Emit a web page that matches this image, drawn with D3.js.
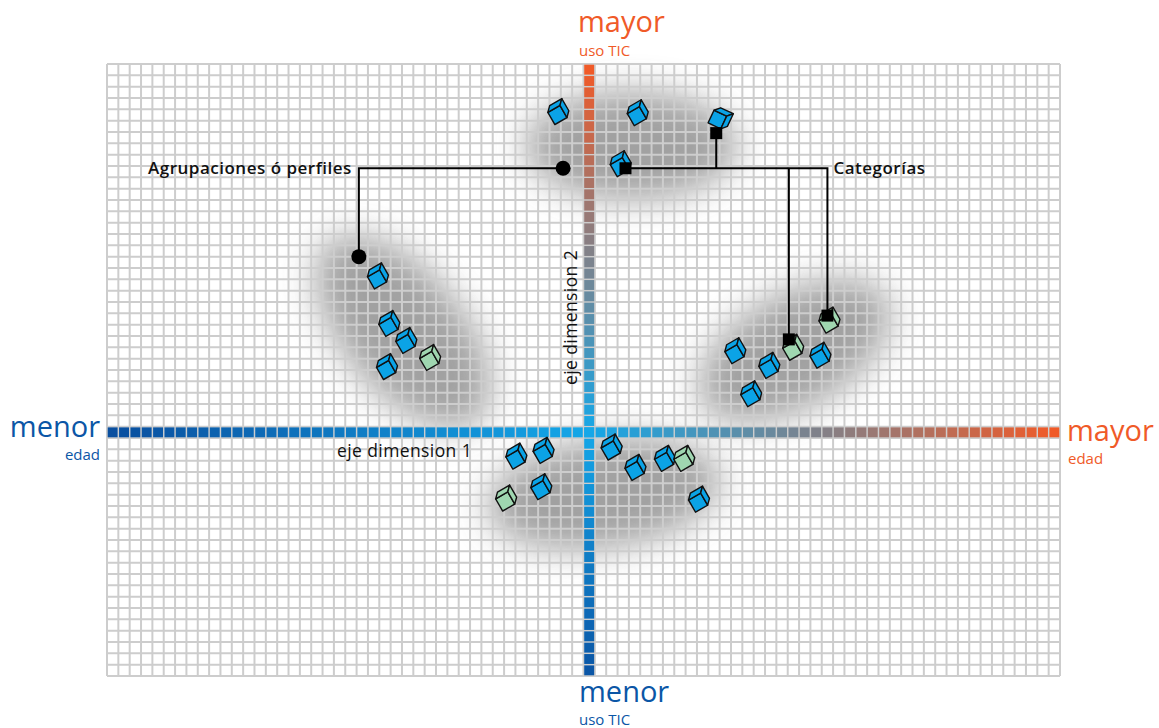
<!DOCTYPE html>
<html><head><meta charset="utf-8">
<script src="https://cdn.jsdelivr.net/npm/d3@7"></script>
<style>
html,body{margin:0;padding:0;background:#fff;}
svg{display:block;font-family:"Open Sans",sans-serif;}
</style></head>
<body><svg id="chart" width="1159" height="728"></svg>
<script>
// ---- data (dimension units: grid cells, axis crossing at 0,0) ----
const gridX = [-42.5, 41.5];      // dimension 1 extent (edad)
const gridY = [-21.5, 32.5];      // dimension 2 extent (uso TIC)

// clusters (agrupaciones / perfiles): centre, radii, tilt
const clusterCx = [3.7, -16.4, 18.1, 1.3];
const clusterCy = [25.3, 8.9, 7.2, -5.4];
const clusterRx = [9.3, 10.2, 9.3, 10.3];
const clusterRy = [4.8, 5.3, 5.0, 4.8];
const clusterTilt = [0, 50, -30, -8];

// categories (cubes)
const cubeX = [-2.8, 4.2, 11.3, 2.7,
  -18.7, -17.7, -16.2, -17.9, -14.1,
  12.8, 15.8, 17.9, 21.1, 20.3, 14.2,
  -6.5, -4.1, -7.4, -4.3, 1.9, 4.0, 6.6, 8.3, 9.6];
const cubeY = [28.0, 27.9, 27.6, 23.4,
  13.5, 9.3, 7.8, 5.5, 6.3,
  6.9, 5.6, 7.2, 9.6, 6.5, 3.1,
  -2.4, -1.9, -6.1, -5.1, -1.6, -3.4, -2.6, -2.6, -6.2];
const cubeGroup = ["a","a","a","a",
  "a","a","a","a","b",
  "a","a","b","b","a","a",
  "a","a","b","a","a","a","a","b","a"];
const cubeTilt = [-30,-30,25,-30, -30,-30,-30,-30,-30, -30,-30,-30,-30,-30,-30, -30,-30,-30,-30,-30,-30,-30,-30,-30];

// annotation anchors
const profileLabel = "Agrupaciones ó perfiles";
const profileDotX = [-2.3, -20.3];
const profileDotY = [23.3, 15.5];
const categoryLabel = "Categorías";
const catMarkX = [3.2, 11.2, 17.6, 21.0];
const catMarkY = [23.3, 26.4, 8.2, 10.3];

const axisLabels = {
  top: ["mayor","uso TIC"], bottom: ["menor","uso TIC"],
  left: ["menor","edad"], right: ["mayor","edad"],
  dim1: "eje dimension 1", dim2: "eje dimension 2"
};

// ---- drawing ----
(function(){
const svg = d3.select("#chart");
const x = d3.scaleLinear().domain(gridX).range([107, 1060]);
const y = d3.scaleLinear().domain(gridY).range([676, 64]);
const cw = x(1) - x(0), ch = y(0) - y(1);

const ORANGE = "#f05a28", BLUE = "#0b56a6", CYAN = "#14a7e8", DARK = "#0a4f9f";

const defs = svg.append("defs");
defs.append("filter").attr("id","blur").attr("x","-60%").attr("y","-60%").attr("width","220%").attr("height","220%")
  .append("feGaussianBlur").attr("stdDeviation", 17);

svg.append("rect").attr("x", x(gridX[0])).attr("y", y(gridY[1]))
  .attr("width", x(gridX[1]) - x(gridX[0])).attr("height", y(gridY[0]) - y(gridY[1])).attr("fill", "#fff");

// cluster shadows
svg.append("g").selectAll("ellipse").data(clusterCx).join("ellipse")
  .attr("cx", 0).attr("cy", 0)
  .attr("rx", (d,i) => clusterRx[i]*cw).attr("ry", (d,i) => clusterRy[i]*ch)
  .attr("transform", (d,i) => `translate(${x(d)},${y(clusterCy[i])}) rotate(${clusterTilt[i]})`)
  .attr("fill", "#8a8a8a").attr("opacity", 0.8).attr("filter", "url(#blur)");

// grid
const gx = d3.range(gridX[0], gridX[1] + 0.01, 1);
const gy = d3.range(gridY[0], gridY[1] + 0.01, 1);
const grid = svg.append("g").attr("stroke", "#cdcdcd").attr("stroke-width", 2);
grid.selectAll("line.v").data(gx).join("line").attr("class","v")
  .attr("x1", d => x(d)).attr("x2", d => x(d)).attr("y1", y(gridY[0])).attr("y2", y(gridY[1]));
grid.selectAll("line.h").data(gy).join("line").attr("class","h")
  .attr("y1", d => y(d)).attr("y2", d => y(d)).attr("x1", x(gridX[0])).attr("x2", x(gridX[1]));

// axis bars
const hCells = d3.range(gridX[0] + 0.5, gridX[1], 1);
const vCells = d3.range(gridY[0] + 0.5, gridY[1], 1);
const leftC = d3.interpolateRgb(DARK, CYAN), rightC = d3.interpolateRgb(CYAN, ORANGE);
const downC = d3.interpolateRgb(CYAN, BLUE);
const inset = 0.7;
const bars = svg.append("g");
bars.selectAll("rect.h").data(hCells).join("rect").attr("class","h")
  .attr("x", d => x(d - 0.5) + inset).attr("y", y(0.5) + inset)
  .attr("width", cw - 2*inset).attr("height", ch - 2*inset)
  .attr("fill", d => d < 0 ? leftC((d - hCells[0]) / (0 - hCells[0])) : rightC(d / hCells[hCells.length-1]));
bars.selectAll("rect.v").data(vCells).join("rect").attr("class","v")
  .attr("x", x(-0.5) + inset).attr("y", d => y(d + 0.5) + inset)
  .attr("width", cw - 2*inset).attr("height", ch - 2*inset)
  .attr("fill", d => d < 0 ? downC(d / vCells[0]) : rightC(d / vCells[vCells.length-1]));

// connectors
const conn = svg.append("g").attr("stroke", "#000").attr("stroke-width", 2).attr("fill", "none");
const rowY = y(profileDotY[0]);
const cornerX = x(profileDotX[1]);
conn.append("path").attr("d", `M${x(profileDotX[0])},${rowY} H${cornerX} V${y(profileDotY[1])}`);
const catRight = x(catMarkX[3]);
conn.append("path").attr("d", `M${x(catMarkX[0])},${rowY} H${catRight} V${y(catMarkY[3])}`);
conn.append("path").attr("d", `M${x(catMarkX[1])},${rowY} V${y(catMarkY[1])}`);
conn.append("path").attr("d", `M${x(catMarkX[2])},${rowY} V${y(catMarkY[2])}`);

// cubes
const s = 14, dd = 5;
const faceFront = `M${-s/2},${-s/2}H${s/2}V${s/2}H${-s/2}Z`;
const faceTop = `M${-s/2},${-s/2}L${-s/2+dd},${-s/2-dd}H${s/2+dd}L${s/2},${-s/2}Z`;
const faceSide = `M${s/2},${-s/2}L${s/2+dd},${-s/2-dd}V${s/2-dd}L${s/2},${s/2}Z`;
const cubes = svg.append("g").selectAll("g").data(cubeX).join("g")
  .attr("transform", (d,i) => `translate(${x(d)},${y(cubeY[i])}) rotate(${cubeTilt[i]})`);
[faceFront, faceTop, faceSide].forEach(p => cubes.append("path").attr("d", p)
  .attr("fill", (d,i) => cubeGroup[i] === "a" ? "#0ba3e6" : "#9fd6b0")
  .attr("stroke", "#111").attr("stroke-width", 1.4).attr("stroke-linejoin", "round"));

// markers
svg.append("g").selectAll("circle").data(profileDotX).join("circle")
  .attr("cx", d => x(d)).attr("cy", (d,i) => y(profileDotY[i])).attr("r", 7.5).attr("fill", "#000");
svg.append("g").selectAll("rect").data(catMarkX).join("rect")
  .attr("x", d => x(d) - 6).attr("y", (d,i) => y(catMarkY[i]) - 6).attr("width", 12).attr("height", 12).attr("fill", "#000");

// annotation labels
svg.append("text").attr("x", cornerX - 7).attr("y", rowY + 6).attr("text-anchor", "end")
  .attr("font-size", 17).attr("font-weight", 600).attr("letter-spacing", 0.5).attr("fill", "#111").text(profileLabel);
svg.append("text").attr("x", catRight + 6).attr("y", rowY + 6)
  .attr("font-size", 17).attr("font-weight", 600).attr("letter-spacing", 0.5).attr("fill", "#111").text(categoryLabel);

// axis labels
const big = 29, small = 15;
svg.append("text").attr("x", 578).attr("y", 32).attr("font-size", big).attr("fill", ORANGE).text(axisLabels.top[0]);
svg.append("text").attr("x", 579).attr("y", 56).attr("font-size", small).attr("fill", ORANGE).text(axisLabels.top[1]);
svg.append("text").attr("x", 579).attr("y", 702).attr("font-size", big).attr("fill", BLUE).text(axisLabels.bottom[0]);
svg.append("text").attr("x", 579).attr("y", 725).attr("font-size", small).attr("fill", BLUE).text(axisLabels.bottom[1]);
svg.append("text").attr("x", 100).attr("y", 437).attr("text-anchor","end").attr("font-size", big).attr("fill", BLUE).text(axisLabels.left[0]);
svg.append("text").attr("x", 100).attr("y", 460).attr("text-anchor","end").attr("font-size", small).attr("fill", BLUE).text(axisLabels.left[1]);
svg.append("text").attr("x", 1067).attr("y", 441).attr("font-size", big).attr("fill", ORANGE).text(axisLabels.right[0]);
svg.append("text").attr("x", 1068).attr("y", 464).attr("font-size", small).attr("fill", ORANGE).text(axisLabels.right[1]);

svg.append("text").attr("x", 337).attr("y", 457).attr("font-size", 17.5).attr("letter-spacing", 0.4).attr("fill", "#111").text(axisLabels.dim1);
svg.append("text").attr("transform", "translate(577,385) rotate(-90)").attr("font-size", 17.5).attr("letter-spacing", 0.4).attr("fill", "#111").text(axisLabels.dim2);
})();
</script></body></html>
